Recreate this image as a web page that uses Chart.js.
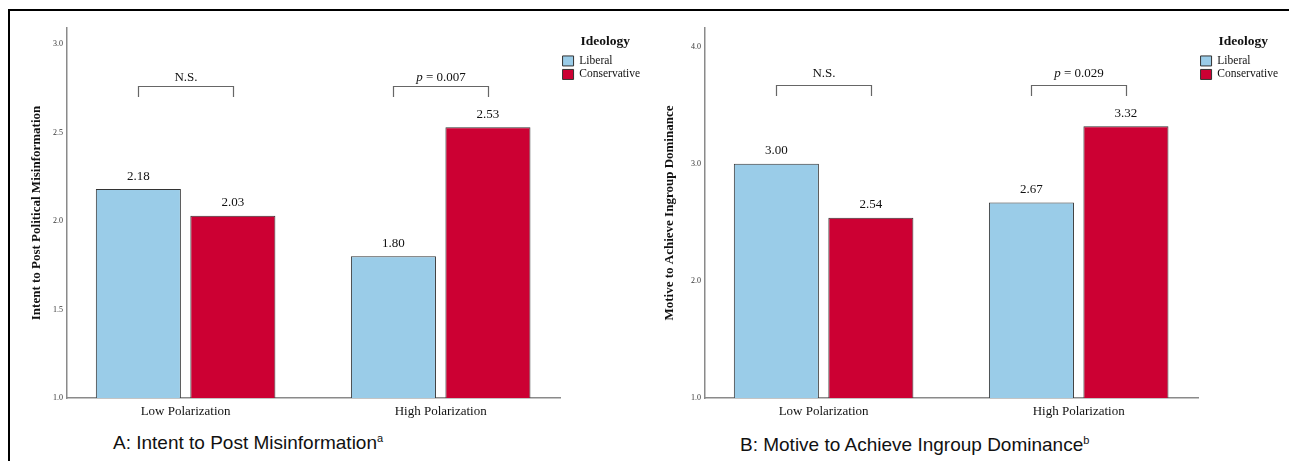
<!DOCTYPE html>
<html>
<head>
<meta charset="utf-8">
<script src="https://cdn.jsdelivr.net/npm/chart.js@4.4.1/dist/chart.umd.min.js"></script>
<style>
  body { margin: 0; background: #fff; width: 1289px; height: 461px; overflow: hidden; position: relative; }
  .frame { position: absolute; left: 8px; top: 9px; width: 1300px; height: 470px; border-top: 2.5px solid #000; border-left: 2.5px solid #000; }
  .panel { position: absolute; top: 12px; }
  .caption { position: absolute; font-family: "Liberation Sans", Arial, sans-serif; font-size: 19px; line-height: 19px; color: #111; white-space: nowrap; }
  .caption span { font-size: 11px; vertical-align: 7px; }
</style>
</head>
<body>
<div class="frame"></div>
<canvas id="chartA" class="panel" style="left:10px" width="640" height="410"></canvas>
<canvas id="chartB" class="panel" style="left:648px" width="640" height="410"></canvas>
<div class="caption" style="left:113px; top:429px">A: Intent to Post Misinformation<span>a</span></div>
<div class="caption" style="left:740px; top:431px">B: Motive to Achieve Ingroup Dominance<span>b</span></div>
<script>
  // ========== DATA ==========
  const categories = ["Low Polarization", "High Polarization"];
  const seriesNames = ["Liberal", "Conservative"];

  const intentLiberal = [2.18, 1.80];
  const intentConservative = [2.03, 2.53];
  const intentTicks = [1.0, 1.5, 2.0, 2.5, 3.0];
  const intentMax = 3.09;
  const intentBrackets = ["N.S.", "p = 0.007"];
  const intentBracketTop = [2.76, 2.76];
  const intentBracketLeg = [2.70, 2.70];
  const intentBracketText = [2.81, 2.81];

  const motiveLiberal = [3.00, 2.67];
  const motiveConservative = [2.54, 3.32];
  const motiveTicks = [1.0, 2.0, 3.0, 4.0];
  const motiveMax = 4.16;
  const motiveBrackets = ["N.S.", "p = 0.029"];
  const motiveBracketTop = [3.675, 3.675];
  const motiveBracketLeg = [3.58, 3.58];
  const motiveBracketText = [3.77, 3.77];

  // ========== STYLE ==========
  const SERIF = "'Liberation Serif', 'Times New Roman', serif";
  const BLUE = "#9ACCE8";
  const RED = "#CC0033";

  // value labels above bars + significance brackets
  function drawBracketLabel(ctx, text, x, y) {
    ctx.textBaseline = "middle";
    if (text.startsWith("p ")) {
      const head = "p", rest = text.slice(1);
      ctx.font = "italic 13px " + SERIF;
      const w1 = ctx.measureText(head).width;
      ctx.font = "13px " + SERIF;
      const w2 = ctx.measureText(rest).width;
      let x0 = x - (w1 + w2) / 2;
      ctx.textAlign = "left";
      ctx.font = "italic 13px " + SERIF;
      ctx.fillText(head, x0, y);
      ctx.font = "13px " + SERIF;
      ctx.fillText(rest, x0 + w1, y);
    } else {
      ctx.font = "13px " + SERIF;
      ctx.textAlign = "center";
      ctx.fillText(text, x, y);
    }
  }

  const annotate = {
    id: "annotate",
    afterDatasetsDraw(chart, args, opts) {
      const ctx = chart.ctx;
      const y = chart.scales.y;
      ctx.save();
      ctx.fillStyle = "#111";
      ctx.font = "13px " + SERIF;
      ctx.textAlign = "center";
      ctx.textBaseline = "middle";
      chart.data.datasets.forEach((ds, d) => {
        chart.getDatasetMeta(d).data.forEach((bar, i) => {
          ctx.fillText(ds.data[i].toFixed(2), bar.x, bar.y - 13);
        });
      });

      const m0 = chart.getDatasetMeta(0).data;
      const m1 = chart.getDatasetMeta(1).data;
      ctx.strokeStyle = "#666";
      ctx.lineWidth = 1.2;
      opts.labels.forEach((lab, i) => {
        const x0 = Math.round(m0[i].x) + 0.5, x1 = Math.round(m1[i].x) + 0.5;
        const yTop = Math.round(y.getPixelForValue(opts.top[i])) + 0.5;
        const yLeg = y.getPixelForValue(opts.leg[i]);
        ctx.beginPath();
        ctx.moveTo(x0, yLeg);
        ctx.lineTo(x0, yTop);
        ctx.lineTo(x1, yTop);
        ctx.lineTo(x1, yLeg);
        ctx.stroke();
        drawBracketLabel(ctx, lab, (x0 + x1) / 2, y.getPixelForValue(opts.text[i]));
      });
      ctx.restore();
    }
  };

  function makeChart(id, lib, con, ticks, max, yTitle, titlePad, brackets) {
    return new Chart(document.getElementById(id), {
      type: "bar",
      data: {
        labels: categories,
        datasets: [
          { label: seriesNames[0], data: lib, backgroundColor: BLUE, borderColor: "#333", borderWidth: 1 },
          { label: seriesNames[1], data: con, backgroundColor: RED, borderColor: "#333", borderWidth: 1 }
        ]
      },
      options: {
        responsive: false,
        animation: false,
        layout: { padding: { top: 16, right: 0, left: 0, bottom: 0 } },
        datasets: { bar: { categoryPercentage: 0.741, barPercentage: 0.9 } },
        plugins: {
          legend: {
            position: "right",
            align: "start",
            title: {
              display: true,
              text: "Ideology",
              color: "#111",
              font: { family: SERIF, size: 13.5, weight: "bold" },
              padding: { top: 7, bottom: 2 }
            },
            labels: {
              boxWidth: 11,
              boxHeight: 10,
              padding: 2,
              color: "#111",
              font: { family: SERIF, size: 11.5, lineHeight: 1.0 }
            }
          },
          tooltip: { enabled: false },
          annotate: brackets
        },
        scales: {
          x: {
            grid: { display: false, drawTicks: false },
            border: { color: "#8a8a8a", width: 1.5 },
            ticks: { padding: 6, color: "#111", font: { family: SERIF, size: 13 } },
            // spread the two groups a little wider than half the axis
            afterBuildTicks: s => { s._startValue = -0.465; s._valueRange = 1.935; },
            afterFit: s => { s.height = 24; }
          },
          y: {
            min: 1,
            max: max,
            grid: { display: false, drawTicks: false },
            border: { color: "#8a8a8a", width: 1.5 },
            ticks: { padding: 4, color: "#333", font: { family: SERIF, size: 8 }, callback: v => Number(v).toFixed(1) },
            afterBuildTicks: s => { s.ticks = ticks.map(v => ({ value: v })); },
            afterFit: s => { s.width = 57; },
            title: {
              display: true,
              text: yTitle,
              color: "#111",
              font: { family: SERIF, size: 13, weight: "bold" },
              padding: { top: titlePad, bottom: 0 }
            }
          }
        }
      },
      plugins: [annotate]
    });
  }

  makeChart("chartA", intentLiberal, intentConservative, intentTicks, intentMax,
    "Intent to Post Political Misinformation", 19,
    { labels: intentBrackets, top: intentBracketTop, leg: intentBracketLeg, text: intentBracketText });

  makeChart("chartB", motiveLiberal, motiveConservative, motiveTicks, motiveMax,
    "Motive to Achieve Ingroup Dominance", 14,
    { labels: motiveBrackets, top: motiveBracketTop, leg: motiveBracketLeg, text: motiveBracketText });
</script>
</body>
</html>
